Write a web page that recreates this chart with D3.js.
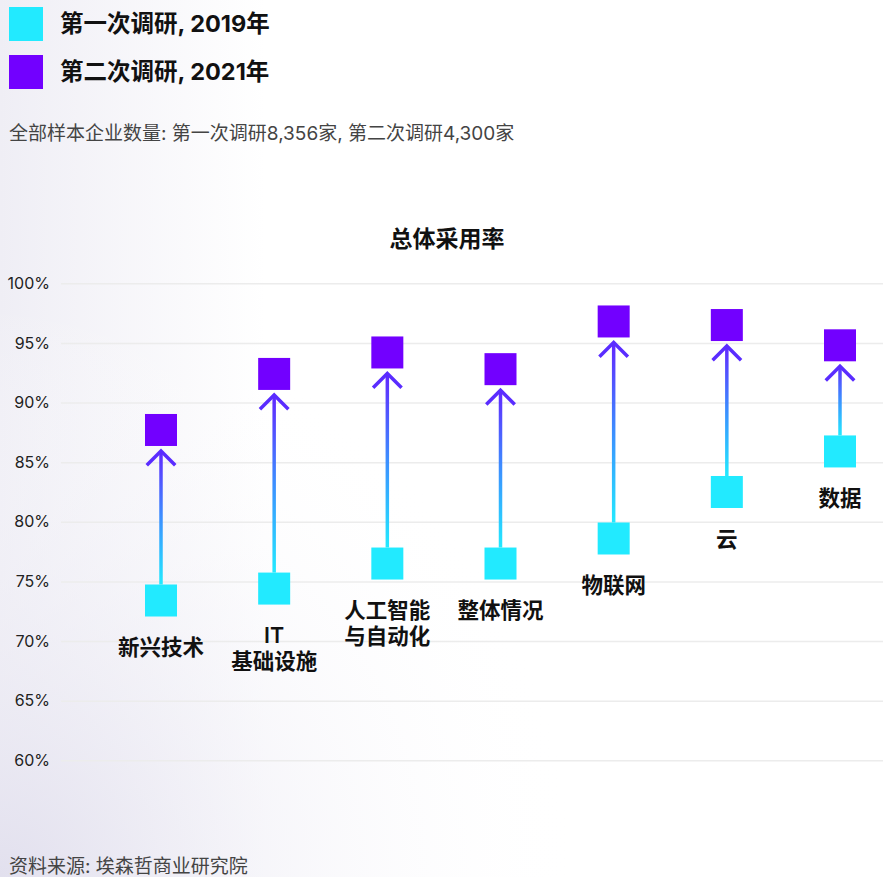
<!DOCTYPE html>
<html>
<head>
<meta charset="utf-8">
<script src="https://cdn.jsdelivr.net/npm/d3@7/dist/d3.min.js"></script>
<style>
  html, body { margin: 0; padding: 0; background: #fff; }
  svg { display: block; }
  text { font-family: Inter, "Noto Sans CJK SC", sans-serif; }
</style>
</head>
<body>
<svg id="chart" width="883" height="877"></svg>
<script>
// Adoption rate by technology area, two survey waves
const categories = ["新兴技术", "IT\n基础设施", "人工智能\n与自动化", "整体情况", "物联网", "云", "数据"];
const survey2019 = [73.4, 74.4, 76.5, 76.5, 78.6, 82.5, 85.9];
const survey2021 = [87.7, 92.4, 94.2, 92.8, 96.8, 96.5, 94.8];
const yTicks = [60, 65, 70, 75, 80, 85, 90, 95, 100];
const seriesNames = ["第一次调研, 2019年", "第二次调研, 2021年"];
const seriesColors = ["#22eaff", "#7200ff"];
const sampleNote = "全部样本企业数量: 第一次调研8,356家, 第二次调研4,300家";
const chartTitle = "总体采用率";
const sourceNote = "资料来源: 埃森哲商业研究院";

const W = 883, H = 877;
const svg = d3.select("#chart");
const defs = svg.append("defs");

// soft lavender wash from the left / bottom-left corner
const bgLin = defs.append("linearGradient").attr("id", "bgLin")
  .attr("x1", 0).attr("y1", 0).attr("x2", 1).attr("y2", 0);
bgLin.append("stop").attr("offset", "0%").attr("stop-color", "#efeef5");
bgLin.append("stop").attr("offset", "30%").attr("stop-color", "#ffffff");
const bgRad = defs.append("radialGradient").attr("id", "bgRad")
  .attr("gradientUnits", "userSpaceOnUse")
  .attr("cx", 0).attr("cy", H).attr("r", 580);
bgRad.append("stop").attr("offset", "0%").attr("stop-color", "#e2e0ee").attr("stop-opacity", 1);
bgRad.append("stop").attr("offset", "100%").attr("stop-color", "#ffffff").attr("stop-opacity", 0);
svg.append("rect").attr("width", W).attr("height", H).attr("fill", "url(#bgLin)");
svg.append("rect").attr("width", W).attr("height", H).attr("fill", "url(#bgRad)");

// Legend
const legend = svg.append("g");
seriesNames.forEach((name, i) => {
  const g = legend.append("g").attr("transform", `translate(9, ${7 + i * 48})`);
  g.append("rect").attr("width", 34).attr("height", 34).attr("fill", seriesColors[i]);
  g.append("text").attr("x", 51).attr("y", 17).attr("dy", "0.36em")
    .attr("font-size", 23.5).attr("font-weight", 700).attr("fill", "#111")
    .text(name);
});

svg.append("text").attr("x", 9).attr("y", 133).attr("dy", "0.36em")
  .attr("font-size", 19).attr("fill", "#444").text(sampleNote);

svg.append("text").attr("x", 447).attr("y", 239).attr("dy", "0.36em")
  .attr("text-anchor", "middle").attr("font-size", 23).attr("font-weight", 700)
  .attr("fill", "#111").text(chartTitle);

svg.append("text").attr("x", 9).attr("y", 866).attr("dy", "0.36em")
  .attr("font-size", 19).attr("fill", "#444").text(sourceNote);

// Scales
const x = d3.scalePoint().domain(categories).range([161, 840]);
const y = d3.scaleLinear().domain([60, 100]).range([760.3, 283.3]);

// Grid + y axis labels
const yAxis = d3.axisLeft(y).tickValues(yTicks).tickFormat(d => d + "%")
  .tickSize(-(W - 61)).tickPadding(11);
const axisG = svg.append("g").attr("transform", "translate(61,0)").call(yAxis);
axisG.select(".domain").remove();
axisG.selectAll(".tick line").attr("stroke", "#ececec").attr("stroke-width", 1.5);
axisG.selectAll(".tick text").attr("font-size", 16).attr("fill", "#222")
  .attr("font-family", "Inter, sans-serif");

// Arrow gradient (cyan at the 2019 end, violet at the 2021 end)
const rows = categories.map((c, i) => ({ c, a: survey2019[i], b: survey2021[i], i }));
const sq = 32;
rows.forEach(d => {
  const g = defs.append("linearGradient").attr("id", "arrowGrad" + d.i)
    .attr("gradientUnits", "userSpaceOnUse")
    .attr("x1", 0).attr("x2", 0)
    .attr("y1", y(d.a) - sq / 2).attr("y2", y(d.b) + sq / 2);
  g.append("stop").attr("offset", "0%").attr("stop-color", "#22eaff");
  g.append("stop").attr("offset", "50%").attr("stop-color", "#3d8cff");
  g.append("stop").attr("offset", "100%").attr("stop-color", "#6420ff");
});

const plot = svg.append("g");
const arrows = plot.selectAll(".arrow").data(rows).join("g").attr("class", "arrow");
arrows.append("line")
  .attr("x1", d => x(d.c)).attr("x2", d => x(d.c))
  .attr("y1", d => y(d.a) - sq / 2).attr("y2", d => y(d.b) + sq / 2 + 5)
  .attr("stroke", d => `url(#arrowGrad${d.i})`).attr("stroke-width", 3.5);
arrows.append("path")
  .attr("d", d => {
    const cx = x(d.c), ty = y(d.b) + sq / 2 + 5;
    return `M${cx - 13},${ty + 13} L${cx},${ty} L${cx + 13},${ty + 13}`;
  })
  .attr("fill", "none").attr("stroke", "#5a2cff").attr("stroke-width", 3.5)
  .attr("stroke-linecap", "square").attr("stroke-linejoin", "miter");

plot.selectAll(".s19").data(rows).join("rect").attr("class", "s19")
  .attr("x", d => x(d.c) - sq / 2).attr("y", d => y(d.a) - sq / 2)
  .attr("width", sq).attr("height", sq).attr("fill", seriesColors[0]);
plot.selectAll(".s21").data(rows).join("rect").attr("class", "s21")
  .attr("x", d => x(d.c) - sq / 2).attr("y", d => y(d.b) - sq / 2)
  .attr("width", sq).attr("height", sq).attr("fill", seriesColors[1]);

// Category labels under the 2019 marker
const labels = plot.selectAll(".lbl").data(rows).join("text").attr("class", "lbl")
  .attr("text-anchor", "middle").attr("font-size", 21.5).attr("font-weight", 600)
  .attr("fill", "#111")
  .attr("transform", d => `translate(${x(d.c)}, ${y(d.a) + sq / 2 + 31})`);
labels.each(function(d) {
  const lines = d.c.split("\n");
  d3.select(this).selectAll("tspan").data(lines).join("tspan")
    .attr("x", 0).attr("y", (l, k) => k * 26).attr("dy", "0.36em").text(l => l);
});
</script>
</body>
</html>
